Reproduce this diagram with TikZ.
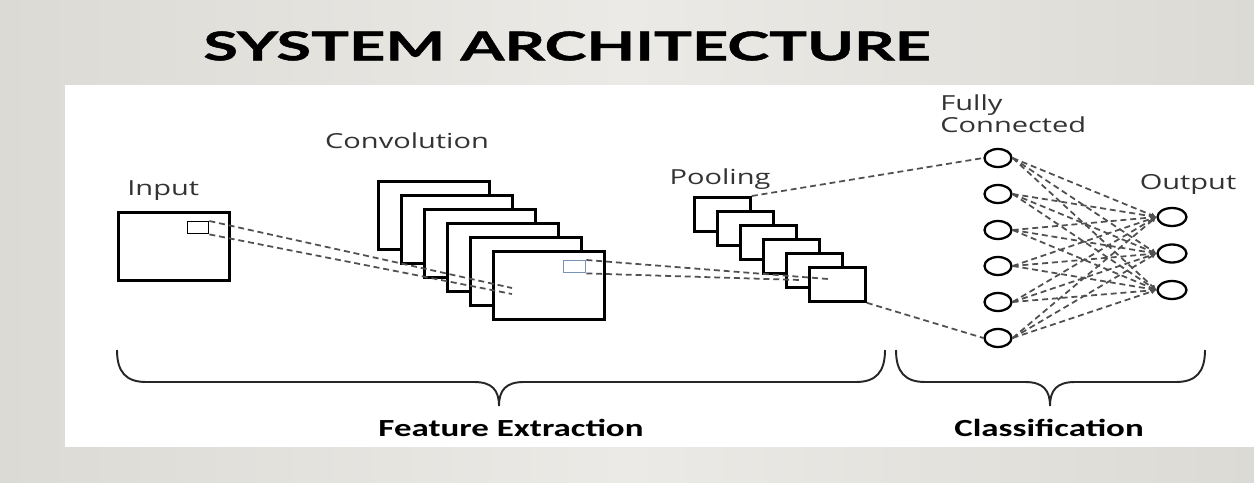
\documentclass[tikz,border=0pt]{standalone}
\usepackage{fontspec}
\usepackage{xcolor}
\usepackage{tikz}
\usetikzlibrary{
  arrows.meta,
  shapes.geometric,
  positioning,
  calc
}
\newfontfamily\titlefont[FakeStretch=1.6,FakeBold=1.2]{Lato}
\newfontfamily\labelfont[FakeStretch=1.4]{Open Sans}
\newfontfamily\bracefont[FakeStretch=1.42]{Carlito}
\definecolor{xbg}{RGB}{220,218,213}
\definecolor{xbglight}{RGB}{235,234,230}
\definecolor{xdash}{RGB}{80,80,80}
\definecolor{xsteel}{RGB}{120,146,184}

\begin{document}
\begin{tikzpicture}[
  x=0.02cm, y=-0.02cm,
  fmap/.style={draw=black, fill=white, line width=1.6pt, inner sep=0pt,
               minimum width=2.22cm, minimum height=1.36cm, anchor=north west},
  pmap/.style={draw=black, fill=white, line width=1.6pt, inner sep=0pt,
               minimum width=1.12cm, minimum height=0.68cm, anchor=north west},
  patch/.style={draw, line width=0.8pt, inner sep=0pt, anchor=north west},
  neuron/.style={ellipse, draw=black, fill=white, line width=1.3pt, inner sep=0pt,
                 minimum width=0.54cm, minimum height=0.36cm},
  link/.style={draw=xdash, line width=1pt, dash pattern=on 3.4pt off 2.2pt},
  fclink/.style={link, -{Latex[length=3pt,width=3pt]}},
  brace/.style={draw=black!85, line width=1.1pt},
  lbl/.style={font=\labelfont\fontsize{11.8}{14}\selectfont, text=black!80, inner sep=0pt},
  group/.style={font=\bracefont\bfseries\fontsize{14}{16}\selectfont, inner sep=0pt}
]
  % background and panel
  \shade[left color=xbg, right color=xbg, middle color=xbglight]
    (0,0) rectangle (1254,483);
  \fill[white] (65,85) rectangle (1254,447);
  \useasboundingbox (0,0) rectangle (1254,483);

  \node[font=\titlefont\bfseries\fontsize{22.5}{25}\selectfont, anchor=west, inner sep=0pt]
    (title) at (203,46) {SYSTEM ARCHITECTURE};

  % input and convolution stack
  \node[fmap] (input) at (117,211) {};
  \node[patch, draw=black, minimum width=0.42cm, minimum height=0.24cm] (inpatch) at (187,221) {};
  \foreach \i in {0,...,5}
    \node[fmap] (conv\i) at ({377+23*\i},{180+14*\i}) {};
  \node[patch, draw=xsteel, minimum width=0.44cm, minimum height=0.24cm] (convpatch) at (563,260) {};

  % pooling stack
  \foreach \i in {0,...,5}
    \node[pmap] (pool\i) at ({693+23*\i},{196+14*\i}) {};

  % fully connected and output neurons
  \foreach \i in {1,...,6}
    \node[neuron] (fc\i) at (998,{158+36*(\i-1)}) {};
  \foreach \j in {1,...,3}
    \node[neuron, minimum width=0.58cm] (out\j) at (1172,{217+36.5*(\j-1)}) {};

  \node[lbl, anchor=west] (inlbl) at (127,191) {Input};
  \node[lbl] (convlbl) at (407,141) {Convolution};
  \node[lbl] (poollbl) at (720,179) {Pooling};
  \node[lbl, anchor=north west, align=left] (fclbl) at (940,94) {Fully\\[-1pt]Connected};
  \node[lbl] (outlbl) at (1188,184) {Output};

  \coordinate (cin1) at (512,288);
  \coordinate (cin2) at (512,294);
  \coordinate (pin1) at (828,279);
  \coordinate (pin2) at (800,280);

  \draw[link] (inpatch.north east) -- (cin1);
  \draw[link] (inpatch.south east) -- (cin2);
  \draw[link] (convpatch.north east) -- (pin1);
  \draw[link] (convpatch.south east) -- (pin2);
  \draw[link] (pool0.north east) -- (fc1.west);
  \draw[link] (pool5.south east) -- (fc6.west);
  \foreach \i in {1,...,6}
    \foreach \j in {1,...,3}
      \draw[fclink] (fc\i.east) -- (out\j.west);

  % braces
  \draw[brace] (117,350) .. controls (117,372) and (126,382) .. (146,382) -- (474,382)
    .. controls (492,382) and (499,390) .. (499,406)
    .. controls (499,390) and (506,382) .. (524,382) -- (856,382)
    .. controls (876,382) and (885,372) .. (885,350);
  \draw[brace] (896,350) .. controls (896,372) and (905,382) .. (925,382) -- (1025,382)
    .. controls (1043,382) and (1050,390) .. (1050,406)
    .. controls (1050,390) and (1057,382) .. (1075,382) -- (1176,382)
    .. controls (1196,382) and (1205,372) .. (1205,350);

  \node[group] (featlbl) at (511,428) {Feature Extraction};
  \node[group] (classlbl) at (1049,428) {Classification};
\end{tikzpicture}
\end{document}
